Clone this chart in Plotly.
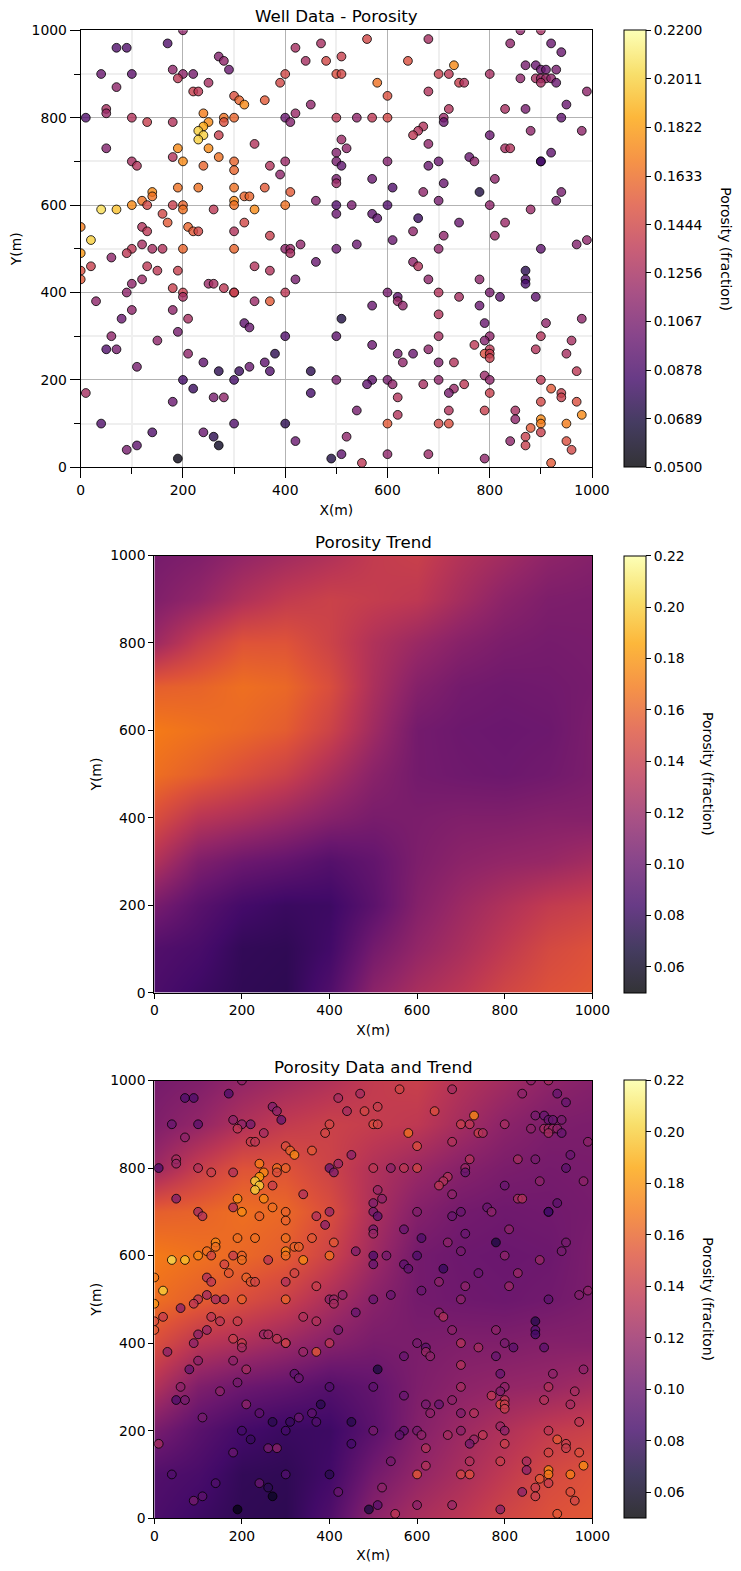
import plotly.graph_objects as go

W, H = 741, 1571
VMIN, VMAX = 0.05, 0.22
FONT = "DejaVu Sans"

well_x = [200,70,90,170,40,100,180,200,190,220,70,250,270,280,290,220,230,300,310,320,360,390,400,420,440,470,480,510,500,510,560,680,640,730,700,720,580,740,750,800,680,600,840,920,940,860,900,870,890,900,910,930,860,890,900,910,920,900,930,990,950,720,830,870,940,500,540,570,600,710,710,670,660,650,680,800,880,980,510,520,500,500,510,600,680,700,760,770,830,840,920,900,900,500,500,570,610,710,810,670,780,940,700,930,500,530,600,800,880,500,570,580,660,740,830,650,710,810,610,500,540,700,900,970,990,
10,50,50,100,130,180,240,250,280,280,300,240,230,240,230,270,50,190,250,180,200,100,110,240,270,300,300,340,370,390,400,400,410,420,450,190,230,300,360,140,140,120,100,130,180,200,200,300,300,320,330,400,460,410,40,70,260,340,160,170,120,130,210,220,230,300,320,370,0,20,100,120,140,160,200,300,400,410,430,
0,0,0,20,60,90,130,150,190,100,120,90,180,200,200,30,100,80,180,210,60,50,70,150,190,210,110,240,270,310,300,330,360,370,380,400,460,420,340,370,250,260,280,300,300,400,340,370,320,330,410,200,220,10,180,260,280,40,300,400,140,240,260,270,110,90,190,450,450,420,490,500,500,510,
650,660,680,780,870,870,870,600,620,620,630,700,740,800,820,890,570,780,700,980,790,910,700,800,900,790,960,770,570,680,800,790,800,800,890,620,650,950,630,700,730,970,790,800,570,560,600,610,670,700,750,730,720,900,920,940,940,800,620,900,970,540,720,790,850,620,850,980,900,900,600,700,720,950,880,900,870,520,840,950,870,960,510,600,680,790,550,920]
well_y = [1000,960,960,970,900,900,910,900,890,900,870,880,940,930,910,860,860,850,840,830,840,880,900,960,930,970,930,940,900,900,980,980,930,920,900,900,880,880,880,900,860,850,970,970,950,1000,1000,920,920,910,910,910,890,890,890,890,890,880,880,860,830,820,820,820,800,800,800,800,800,800,790,780,770,760,740,760,770,770,750,730,720,700,690,700,690,700,710,700,730,730,720,700,700,660,650,660,640,650,660,630,630,630,610,610,600,600,600,600,590,580,580,570,570,560,560,540,530,530,520,500,510,500,500,510,520,
800,820,810,800,790,790,810,790,800,790,800,780,770,760,750,760,730,730,730,710,700,700,690,690,710,700,680,740,690,670,700,800,790,810,830,640,640,640,640,630,620,610,600,600,600,600,590,610,600,620,620,600,610,630,590,590,590,590,580,560,550,540,550,540,540,540,560,530,550,520,500,510,500,500,500,500,500,500,510,
490,450,430,460,480,490,460,450,450,420,430,400,410,400,390,380,360,340,360,340,300,270,270,290,310,260,230,240,220,220,200,230,240,220,260,300,470,430,460,450,420,420,410,400,400,400,380,380,330,320,490,200,180,170,150,160,160,100,100,100,80,80,70,50,50,40,20,220,170,60,20,200,300,340,
470,460,430,430,450,430,420,400,390,380,370,400,390,400,390,390,370,370,350,340,330,330,300,300,300,290,290,280,280,270,270,260,260,250,270,260,260,260,240,240,240,220,210,200,200,190,200,190,190,200,190,180,170,200,180,170,160,170,160,150,150,130,130,130,130,120,110,120,110,100,100,100,100,100,90,80,70,70,60,60,50,40,30,30,30,20,10,10]
well_por = [.115,.09,.09,.09,.10,.095,.115,.115,.135,.105,.115,.125,.11,.115,.10,.14,.135,.15,.16,.175,.155,.145,.145,.125,.125,.125,.145,.14,.15,.145,.145,.125,.15,.175,.14,.135,.165,.14,.13,.125,.13,.15,.115,.10,.10,.115,.125,.105,.10,.10,.10,.105,.115,.125,.12,.12,.115,.125,.10,.115,.10,.13,.125,.105,.095,.135,.115,.135,.145,.12,.10,.13,.13,.135,.115,.10,.115,.115,.12,.115,.11,.105,.095,.11,.10,.10,.10,.115,.125,.13,.095,.085,.085,.105,.12,.10,.09,.10,.115,.115,.07,.105,.105,.105,.09,.105,.09,.115,.12,.10,.095,.095,.08,.10,.12,.115,.115,.12,.10,.10,.10,.115,.095,.11,.115,
.09,.125,.12,.13,.14,.13,.17,.175,.165,.15,.16,.185,.20,.20,.20,.14,.11,.175,.175,.13,.175,.125,.13,.16,.165,.16,.16,.13,.13,.115,.12,.10,.11,.12,.115,.165,.165,.165,.155,.175,.165,.165,.175,.145,.14,.16,.165,.175,.165,.16,.16,.165,.11,.155,.205,.195,.135,.175,.145,.155,.13,.135,.16,.155,.145,.13,.145,.14,.17,.20,.135,.125,.125,.13,.16,.16,.115,.12,.115,
.18,.15,.155,.14,.115,.135,.135,.135,.14,.115,.12,.115,.14,.14,.125,.115,.115,.10,.115,.125,.115,.09,.105,.115,.105,.115,.105,.095,.075,.08,.085,.10,.095,.09,.075,.09,.10,.105,.13,.13,.12,.125,.135,.14,.14,.135,.12,.155,.095,.10,.125,.085,.08,.125,.10,.105,.115,.09,.09,.075,.09,.10,.075,.06,.095,.105,.055,.075,.085,.10,.07,.105,.095,.07,
.115,.13,.115,.115,.075,.09,.085,.105,.095,.12,.115,.13,.125,.105,.095,.095,.10,.10,.13,.115,.10,.115,.125,.115,.13,.11,.125,.135,.10,.115,.135,.15,.14,.14,.13,.105,.10,.125,.115,.11,.13,.135,.12,.115,.095,.095,.105,.115,.125,.115,.135,.12,.105,.135,.155,.14,.14,.14,.13,.145,.15,.105,.13,.14,.125,.13,.115,.175,.175,.17,.155,.145,.15,.17,.155,.14,.14,.115,.115,.15,.14,.145,.095,.115,.12,.115,.135,.155]
assert len(well_x) == len(well_y) == len(well_por), (len(well_x), len(well_y), len(well_por))

grid_x = [0,100,200,300,400,500,600,700,800,900,1000]
grid_y = [0,100,200,300,400,500,600,700,800,900,1000]
trend_y0    = [.088,.082,.077,.076,.090,.115,.127,.135,.145,.152,.155]
trend_y100  = [.091,.087,.078,.077,.084,.105,.118,.127,.137,.147,.152]
trend_y200  = [.107,.094,.085,.081,.082,.095,.112,.122,.130,.138,.142]
trend_y300  = [.131,.110,.102,.098,.092,.098,.109,.115,.118,.120,.125]
trend_y400  = [.150,.134,.128,.121,.113,.107,.108,.110,.110,.112,.112]
trend_y500  = [.165,.158,.150,.142,.128,.114,.105,.103,.102,.104,.108]
trend_y600  = [.170,.166,.162,.157,.143,.123,.105,.102,.101,.102,.108]
trend_y700  = [.158,.160,.165,.162,.150,.128,.112,.105,.103,.104,.106]
trend_y800  = [.122,.140,.153,.153,.143,.130,.121,.113,.108,.106,.107]
trend_y900  = [.110,.118,.130,.138,.142,.139,.136,.125,.115,.109,.108]
trend_y1000 = [.106,.110,.118,.124,.130,.138,.141,.131,.124,.116,.112]
trend = [trend_y0,trend_y100,trend_y200,trend_y300,trend_y400,trend_y500,
         trend_y600,trend_y700,trend_y800,trend_y900,trend_y1000]

inferno_hex = ["#000004","#160b39","#420a68","#6a176e","#932667","#bc3754",
               "#dd513a","#f37819","#fca50a","#f6d746","#fcffa4"]
def scale(alpha):
    out = []
    for i, h in enumerate(inferno_hex):
        r, g, b = int(h[1:3],16), int(h[3:5],16), int(h[5:7],16)
        out.append([i/10, f"rgba({r},{g},{b},{alpha})"])
    return out

cb1_vals = [0.05,0.0689,0.0878,0.1067,0.1256,0.1444,0.1633,0.1822,0.2011,0.22]
cb1_text = ["0.0500","0.0689","0.0878","0.1067","0.1256","0.1444","0.1633","0.1822","0.2011","0.2200"]
cb2_vals = [0.06,0.08,0.10,0.12,0.14,0.16,0.18,0.20,0.22]
cb2_text = ["0.06","0.08","0.10","0.12","0.14","0.16","0.18","0.20","0.22"]

def colorbar(top, bottom, vals, text):
    return dict(x=624.3/W, xanchor="left", xpad=0, ypad=0,
                y=1-bottom/H, yanchor="bottom", len=(bottom-top)/H, lenmode="fraction",
                thickness=22, thicknessmode="pixels", outlinewidth=1, outlinecolor="black",
                ticks="outside", ticklen=5, tickwidth=1, tickcolor="black",
                tickmode="array", tickvals=vals, ticktext=text,
                tickfont=dict(family=FONT, size=13.9, color="black"))

panels = [
    dict(l=80.7,r=592,t=30.3,b=467.3,title="Well Data - Porosity",cb=(cb1_vals,cb1_text),cbx=726.5,
         cbt="Porosity (fraction)"),
    dict(l=154.3,r=592.3,t=555.5,b=992.7,title="Porosity Trend",cb=(cb2_vals,cb2_text),cbx=708,
         cbt="Porosity (fraction)"),
    dict(l=154.3,r=592.3,t=1080.5,b=1518.2,title="Porosity Data and Trend",cb=(cb2_vals,cb2_text),cbx=708,
         cbt="Porosity (fraciton)"),
]

fig = go.Figure()

def wells(ax, cb=None, showscale=False):
    fig.add_trace(go.Scatter(
        x=well_x, y=well_y, mode="markers", xaxis=f"x{ax}", yaxis=f"y{ax}",
        showlegend=False, hoverinfo="skip",
        marker=dict(size=8.8, color=well_por, cmin=VMIN, cmax=VMAX, colorscale=scale(0.8),
                    showscale=showscale, colorbar=cb,
                    line=dict(color="rgba(0,0,0,0.8)", width=1))))

def field(ax):
    fig.add_trace(go.Heatmap(
        x=grid_x, y=grid_y, z=trend, xaxis=f"x{ax}", yaxis=f"y{ax}", zsmooth="best",
        zmin=VMIN, zmax=VMAX, colorscale=scale(1), showscale=False, hoverinfo="skip"))

p = panels[0]
wells(1, colorbar(p["t"], p["b"], *p["cb"]), True)

p = panels[1]
field(2)
fig.add_trace(go.Scatter(
    x=[None], y=[None], mode="markers", xaxis="x2", yaxis="y2", showlegend=False,
    marker=dict(color=[VMIN], cmin=VMIN, cmax=VMAX, colorscale=scale(0.8), showscale=True,
                colorbar=colorbar(p["t"], p["b"], *p["cb"]))))

p = panels[2]
field(3)
wells(3, colorbar(p["t"], p["b"], *p["cb"]), True)

layout = dict(width=W, height=H, margin=dict(l=0,r=0,t=0,b=0), autosize=False,
              paper_bgcolor="white", plot_bgcolor="white",
              font=dict(family=FONT, size=13.9, color="black"), showlegend=False)
annotations = []
for i, p in enumerate(panels, start=1):
    major = 10 if i == 1 else 5
    common = dict(range=[0,1000], tick0=0, dtick=200, ticks="outside", ticklen=major, tickwidth=1,
                  tickcolor="black", showline=True, linecolor="black", linewidth=1, mirror=True,
                  zeroline=False, showgrid=i==1, gridcolor="#b3b3b3", gridwidth=1.2,
                  tickfont=dict(family=FONT, size=13.9, color="black"), automargin=False)
    if i == 1:
        common["minor"] = dict(dtick=100, tick0=0, ticks="outside", ticklen=6, tickwidth=1,
                               tickcolor="black", showgrid=True, gridcolor="#efefef", gridwidth=1.6)
    suffix = "" if i == 1 else str(i)
    layout[f"xaxis{suffix}"] = dict(common, anchor=f"y{suffix}" if suffix else "y",
        domain=[p["l"]/W, p["r"]/W], title=dict(text="X(m)", standoff=8 if i == 1 else 7, font=dict(size=13.9)))
    layout[f"yaxis{suffix}"] = dict(common, anchor=f"x{suffix}" if suffix else "x",
        domain=[1-p["b"]/H, 1-p["t"]/H], title=dict(text="Y(m)", standoff=6 if i == 1 else 5, font=dict(size=13.9)))
    annotations.append(dict(text=p["title"], x=(p["l"]+p["r"])/2/W, y=1-(p["t"]-13.5)/H, xref="paper", yref="paper",
                            showarrow=False, xanchor="center", yanchor="middle",
                            font=dict(family=FONT, size=16.67, color="black")))
    annotations.append(dict(text=p["cbt"], x=p["cbx"]/W, y=1-(p["t"]+p["b"])/2/H,
                            xref="paper", yref="paper", showarrow=False, textangle=90,
                            xanchor="center", yanchor="middle",
                            font=dict(family=FONT, size=13.9, color="black")))
layout["annotations"] = annotations
fig.update_layout(**layout)

fig.write_html("out.html", config={"displayModeBar": False},
               post_script="document.body.style.margin='0';document.body.style.overflow='hidden';")
